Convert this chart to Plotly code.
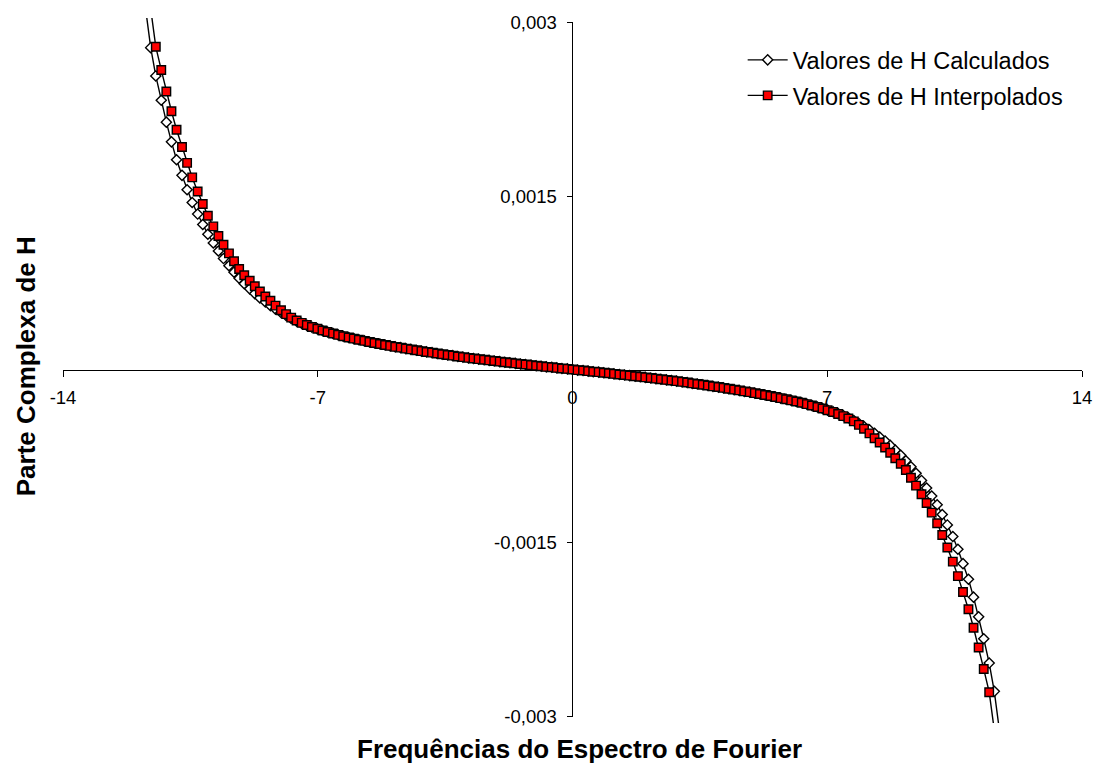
import plotly.graph_objects as go

# Frequencies (x) shared by both series
freq = [
    -11.73, -11.59, -11.45, -11.30, -11.16, -11.02, -10.88, -10.73, -10.59, -10.45,
    -10.30, -10.16, -10.02, -9.87, -9.73, -9.59, -9.44, -9.30, -9.16, -9.02,
    -8.87, -8.73, -8.59, -8.44, -8.30, -8.16, -8.01, -7.87, -7.73, -7.58,
    -7.44, -7.30, -7.16, -7.01, -6.87, -6.73, -6.58, -6.44, -6.30, -6.15,
    -6.01, -5.87, -5.72, -5.58, -5.44, -5.29, -5.15, -5.01, -4.87, -4.72,
    -4.58, -4.44, -4.29, -4.15, -4.01, -3.86, -3.72, -3.58, -3.43, -3.29,
    -3.15, -3.01, -2.86, -2.72, -2.58, -2.43, -2.29, -2.15, -2.00, -1.86,
    -1.72, -1.57, -1.43, -1.29, -1.14, -1.00, -0.86, -0.72, -0.57, -0.43,
    -0.29, -0.14,
    0.00,
    0.14, 0.29, 0.43, 0.57, 0.72, 0.86, 1.00, 1.14, 1.29, 1.43,
    1.57, 1.72, 1.86, 2.00, 2.15, 2.29, 2.43, 2.58, 2.72, 2.86,
    3.01, 3.15, 3.29, 3.43, 3.58, 3.72, 3.86, 4.01, 4.15, 4.29,
    4.44, 4.58, 4.72, 4.87, 5.01, 5.15, 5.29, 5.44, 5.58, 5.72,
    5.87, 6.01, 6.15, 6.30, 6.44, 6.58, 6.73, 6.87, 7.01, 7.16,
    7.30, 7.44, 7.58, 7.73, 7.87, 8.01, 8.16, 8.30, 8.44, 8.59,
    8.73, 8.87, 9.02, 9.16, 9.30, 9.44, 9.59, 9.73, 9.87, 10.02,
    10.16, 10.30, 10.45, 10.59, 10.73, 10.88, 11.02, 11.16, 11.30, 11.45,
    11.59, 11.73,
]

# "Valores de H Calculados" (in units of 0.001)
calc_y_milli = [
    3.120, 2.785, 2.540, 2.330, 2.140, 1.970, 1.815, 1.680, 1.555, 1.445,
    1.345, 1.255, 1.170, 1.095, 1.025, 0.960, 0.898, 0.842, 0.790, 0.742,
    0.698, 0.657, 0.619, 0.584, 0.552, 0.522, 0.494, 0.467, 0.441, 0.418,
    0.399, 0.382, 0.366, 0.351, 0.337, 0.324, 0.312, 0.300, 0.288, 0.277,
    0.267, 0.257, 0.248, 0.238, 0.229, 0.221, 0.212, 0.204, 0.196, 0.189,
    0.181, 0.174, 0.167, 0.159, 0.152, 0.146, 0.139, 0.132, 0.126, 0.120,
    0.113, 0.107, 0.101, 0.095, 0.090, 0.084, 0.079, 0.073, 0.068, 0.063,
    0.058, 0.053, 0.048, 0.043, 0.038, 0.033, 0.028, 0.023, 0.019, 0.014,
    0.009, 0.005,
    0.000,
    -0.005, -0.009, -0.014, -0.019, -0.023, -0.028, -0.033, -0.038, -0.043, -0.048,
    -0.053, -0.058, -0.063, -0.068, -0.073, -0.079, -0.084, -0.090, -0.095, -0.101,
    -0.107, -0.113, -0.120, -0.126, -0.132, -0.139, -0.146, -0.152, -0.159, -0.167,
    -0.174, -0.181, -0.189, -0.196, -0.204, -0.212, -0.221, -0.229, -0.238, -0.248,
    -0.257, -0.267, -0.277, -0.288, -0.300, -0.312, -0.324, -0.337, -0.351, -0.366,
    -0.382, -0.399, -0.418, -0.441, -0.467, -0.494, -0.522, -0.552, -0.584, -0.619,
    -0.657, -0.698, -0.742, -0.790, -0.842, -0.898, -0.960, -1.025, -1.095, -1.170,
    -1.255, -1.345, -1.445, -1.555, -1.680, -1.815, -1.970, -2.140, -2.330, -2.540,
    -2.785, -3.120,
]

# "Valores de H Interpolados" (in units of 0.001), at freq[1:-1]
interp_y_milli = [
    3.120, 2.792, 2.592, 2.405, 2.235, 2.075, 1.925, 1.788, 1.662, 1.540,
    1.432, 1.330, 1.238, 1.155, 1.080, 1.005, 0.937, 0.870, 0.815, 0.768,
    0.720, 0.675, 0.632, 0.595, 0.553, 0.513, 0.479, 0.449, 0.424, 0.403,
    0.385, 0.368, 0.353, 0.338, 0.325, 0.312, 0.300, 0.288, 0.277, 0.267,
    0.257, 0.248, 0.238, 0.229, 0.221, 0.212, 0.204, 0.196, 0.189, 0.181,
    0.174, 0.167, 0.159, 0.152, 0.146, 0.139, 0.132, 0.126, 0.120, 0.113,
    0.107, 0.101, 0.095, 0.090, 0.084, 0.079, 0.073, 0.068, 0.063, 0.058,
    0.053, 0.048, 0.043, 0.038, 0.033, 0.028, 0.023, 0.019, 0.014, 0.009,
    0.005,
    0.000,
    -0.005, -0.009, -0.014, -0.019, -0.023, -0.028, -0.033, -0.038, -0.043, -0.048,
    -0.053, -0.058, -0.063, -0.068, -0.073, -0.079, -0.084, -0.090, -0.095, -0.101,
    -0.107, -0.113, -0.120, -0.126, -0.132, -0.139, -0.146, -0.152, -0.159, -0.167,
    -0.174, -0.181, -0.189, -0.196, -0.204, -0.212, -0.221, -0.229, -0.238, -0.248,
    -0.257, -0.267, -0.277, -0.288, -0.300, -0.312, -0.325, -0.338, -0.353, -0.368,
    -0.385, -0.403, -0.424, -0.449, -0.479, -0.513, -0.553, -0.595, -0.632, -0.675,
    -0.720, -0.768, -0.815, -0.870, -0.937, -1.005, -1.080, -1.155, -1.238, -1.330,
    -1.432, -1.540, -1.662, -1.788, -1.925, -2.075, -2.235, -2.405, -2.592, -2.792,
    -3.120,
]

x_tickvals = [-14, -7, 0, 7, 14]
x_ticktext = ["-14", "-7", "0", "7", "14"]
y_tickvals = [-0.003, -0.0015, 0.0015, 0.003]
y_ticktext = ["-0,003", "-0,0015", "0,0015", "0,003"]

series_names = ["Valores de H Calculados", "Valores de H Interpolados"]
x_title = "Frequências do Espectro de Fourier"
y_title = "Parte Complexa de H"

assert len(freq) == len(calc_y_milli)
interp_x = freq[1:-1]
assert len(interp_x) == len(interp_y_milli)

calc_y = [v / 1000 for v in calc_y_milli]
interp_y = [v / 1000 for v in interp_y_milli]

FONT = "Arial, 'Liberation Sans', sans-serif"

fig = go.Figure()
fig.add_trace(go.Scatter(
    x=freq, y=calc_y, mode="lines+markers", name=series_names[0],
    legendgroup="a",
    line=dict(color="black", width=1.4),
    marker=dict(symbol="diamond", size=7.8, color="white",
                line=dict(color="black", width=1.4)),
))
fig.add_trace(go.Scatter(
    x=interp_x, y=interp_y, mode="lines+markers", name=series_names[1],
    legendgroup="b",
    line=dict(color="black", width=1.4),
    marker=dict(symbol="square", size=8.5, color="#FF0000",
                line=dict(color="black", width=1.4)),
))

y_range = [-0.0030587, 0.0030414]
x_axis_pos = -y_range[0] / (y_range[1] - y_range[0])

fig.update_layout(
    width=1104, height=776,
    margin=dict(l=63, r=21, t=16, b=53),
    paper_bgcolor="white", plot_bgcolor="white",
    font=dict(family=FONT, color="black", size=18),
    showlegend=True,
    legend=dict(
        x=0.667, y=0.9715, xanchor="left", yanchor="top",
        font=dict(size=23.5, family=FONT, color="black"),
        bgcolor="rgba(0,0,0,0)", borderwidth=0,
        itemwidth=40, traceorder="grouped", tracegroupgap=2,
    ),
    xaxis=dict(
        range=[-14, 14], anchor="free", position=x_axis_pos,
        showgrid=False, zeroline=False,
        showline=True, linecolor="black", linewidth=1,
        ticks="outside", ticklen=6, tickcolor="black", tickwidth=1,
        tickvals=x_tickvals, ticktext=x_ticktext,
        tickfont=dict(size=18.5, family=FONT, color="black"),
        ticklabelstandoff=5,
        layer="below traces",
    ),
    yaxis=dict(
        range=y_range, anchor="free", position=0.5,
        showgrid=False, zeroline=False, showline=False,
        ticks="outside", ticklen=6, tickcolor="black", tickwidth=1,
        tickvals=y_tickvals, ticktext=y_ticktext,
        tickfont=dict(size=18.5, family=FONT, color="black"),
        ticklabelstandoff=6,
        layer="below traces",
    ),
    shapes=[dict(
        type="line", xref="x", yref="y", x0=0, x1=0,
        y0=min(y_tickvals), y1=max(y_tickvals),
        line=dict(color="black", width=1), layer="below",
    )],
    annotations=[
        dict(text="<b>" + x_title + "</b>", xref="paper", yref="paper",
             x=0.507, y=-0.0368, xanchor="center", yanchor="middle",
             showarrow=False, font=dict(size=26, family=FONT, color="black")),
        dict(text="<b>" + y_title + "</b>", xref="paper", yref="paper",
             x=-0.0363, y=0.506, xanchor="center", yanchor="middle",
             textangle=-90, showarrow=False,
             font=dict(size=26, family=FONT, color="black")),
    ],
)

fig.write_html(
    "out.html",
    config={"displayModeBar": False},
    post_script="document.body.style.margin='0';document.body.style.overflow='hidden';",
)
